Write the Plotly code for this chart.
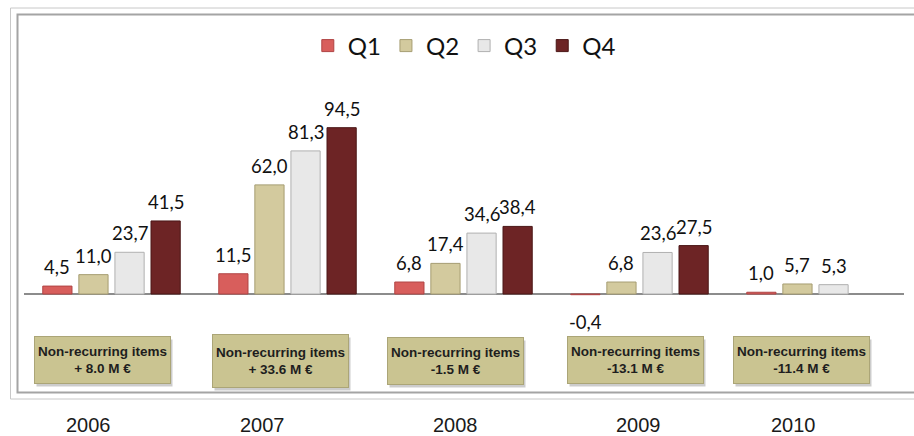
import plotly.graph_objects as go

# ---- data ----
years = ["2006", "2007", "2008", "2009", "2010"]
quarters = ["Q1", "Q2", "Q3", "Q4"]
q1 = [4.5, 11.5, 6.8, -0.4, 1.0]
q2 = [11.0, 62.0, 17.4, 6.8, 5.7]
q3 = [23.7, 81.3, 34.6, 23.6, 5.3]
q4 = [41.5, 94.5, 38.4, 27.5, None]
nonrec_title = "Non-recurring items"
nonrec = ["+ 8.0 M €", "+ 33.6 M €", "-1.5 M €", "-13.1 M €", "-11.4 M €"]

series = [q1, q2, q3, q4]
fills = ["#D85E5C", "#D3CA9E", "#E8E8E8", "#6D2425"]
lines = ["#B04444", "#A69D72", "#B0B0B0", "#4A1616"]

W, H = 914, 436
T, B = 60, 44          # plot area top / bottom margins (px)
PH = H - T - B
BARGAP = 0.18

def py(p):   # pixel y -> paper y
    return (H - B - p) / PH

def px(p):   # pixel x -> paper x
    return p / W

fig = go.Figure()
for name, vals, fc, lc in zip(quarters, series, fills, lines):
    fig.add_trace(go.Bar(
        x=years, y=vals, name=name,
        marker=dict(color=fc, line=dict(color=lc, width=1)),
        hoverinfo="skip",
    ))

anns = []

# non-recurring boxes (drawn first, so value labels sit on top)
box_shift = [-9, -7, -8, -4, -14]
box_y = [360, 361, 361, 360, 360]
box_h = [46, 52, 46, 46, 46]
for j, (lab, sh, by, bh) in enumerate(zip(nonrec, box_shift, box_y, box_h)):
    anns.append(dict(x=j, y=py(by), xref="x", yref="paper", xshift=sh + 2, yshift=-3,
                     yanchor="middle", text="", showarrow=False, width=135, height=bh,
                     bgcolor="rgba(110,110,110,0.35)", borderpad=0))
    anns.append(dict(x=j, y=py(by), xref="x", yref="paper", xshift=sh, yanchor="middle",
                     text=f"<b>{nonrec_title}<br>{lab}</b>", showarrow=False,
                     width=135, height=bh, align="center", valign="middle",
                     bgcolor="#CAC491", bordercolor="#ABA577", borderwidth=1, borderpad=0,
                     font=dict(family="Liberation Sans, Arial", size=13.5, color="#1E1E1E")))

# data labels
slot = (1 - BARGAP) / 4
for i, vals in enumerate(series):
    for j, v in enumerate(vals):
        if v is None:
            continue
        txt = f"{v:.1f}".replace(".", ",")
        pos = j + (i - 1.5) * slot
        if v >= 0:
            anns.append(dict(x=pos, y=v, xref="x", yref="y", text=txt, showarrow=False,
                             yanchor="bottom", yshift=6,
                             font=dict(family="Lato", size=18.5, color="#111111")))
        else:
            anns.append(dict(x=pos, y=v, xref="x", yref="y", text=txt, showarrow=False,
                             yanchor="top", yshift=-14,
                             font=dict(family="Lato", size=18.5, color="#111111")))

# year labels
year_shift = [-23, -25, -8, -1, -22]
for j, (yr, sh) in enumerate(zip(years, year_shift)):
    anns.append(dict(x=j, y=py(425), xref="x", yref="paper", xshift=sh,
                     text=yr, showarrow=False, yanchor="middle",
                     font=dict(family="Liberation Sans, Arial", size=20, color="#1A1A1A")))

shapes = [
    dict(type="rect", xref="paper", yref="paper", x0=px(10.5), x1=1.02, y0=py(399), y1=py(8),
         line=dict(color="#C8C8C8", width=1), layer="below"),
    dict(type="rect", xref="paper", yref="paper", x0=px(17.5), x1=1.02, y0=py(392.5), y1=py(14.5),
         line=dict(color="#A4A4A4", width=2), layer="below"),
]

scale = 1.76
fig.update_layout(
    width=W, height=H,
    margin=dict(l=0, r=0, t=T, b=B),
    paper_bgcolor="white", plot_bgcolor="rgba(0,0,0,0)",
    barmode="group", bargap=BARGAP, bargroupgap=0.19,
    showlegend=True,
    legend=dict(orientation="h", x=0.508, xanchor="center", y=py(46), yanchor="middle",
                font=dict(family="Lato", size=24, color="#111111"),
                bgcolor="rgba(0,0,0,0)", itemclick=False, itemdoubleclick=False),
    xaxis=dict(domain=[px(23.5), px(903.5)], range=[-0.5, 4.5], showticklabels=False,
               showgrid=False, zeroline=False, showline=False, ticks=""),
    yaxis=dict(range=[-(H - B - 294) / scale, (294 - T) / scale], showticklabels=False,
               showgrid=False, zeroline=True, zerolinecolor="#8C8C8C", zerolinewidth=2,
               showline=False, ticks=""),
    annotations=anns,
    shapes=shapes,
)

fig.write_html("out.html")
